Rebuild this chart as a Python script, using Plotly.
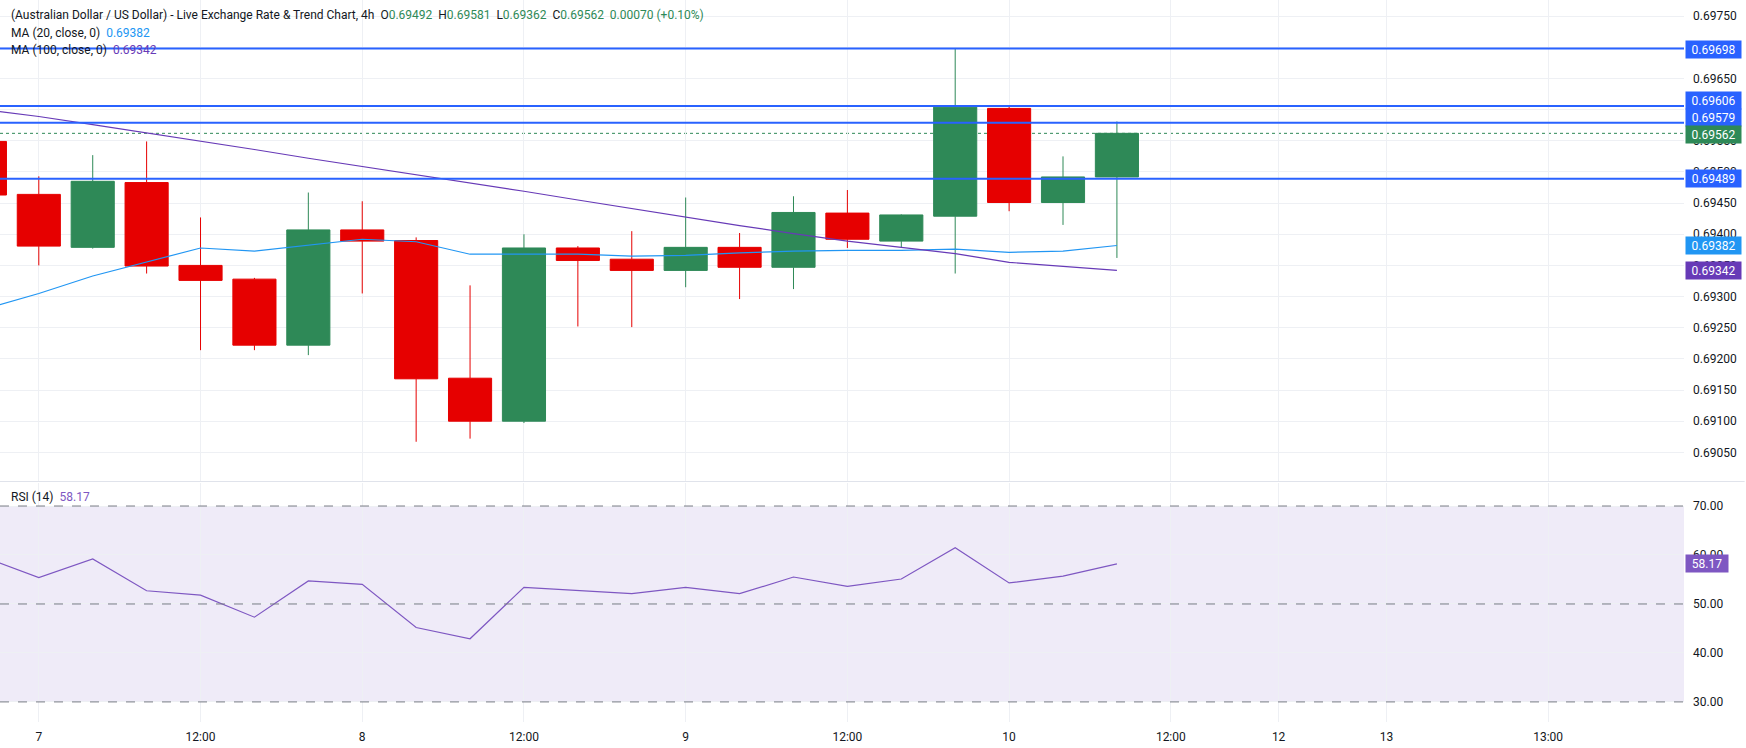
import plotly.graph_objects as go

# ---- data ----
candle_idx = list(range(-1, 21))
open_ = [0.69549, 0.69464, 0.69379, 0.69483, 0.69350, 0.69328, 0.69222, 0.69407, 0.69390, 0.69169, 0.69100,
         0.69378, 0.69360, 0.69342, 0.69379, 0.69347, 0.69434, 0.69389, 0.69429, 0.69602, 0.69451, 0.69492]
high = [0.69555, 0.69493, 0.69527, 0.69549, 0.69427, 0.69330, 0.69467, 0.69453, 0.69395, 0.69318, 0.69400,
        0.69381, 0.69405, 0.69459, 0.69402, 0.69461, 0.69471, 0.69432, 0.69698, 0.69606, 0.69525, 0.69581]
low = [0.69455, 0.69350, 0.69377, 0.69337, 0.69214, 0.69214, 0.69206, 0.69305, 0.69067, 0.69072, 0.69097,
       0.69252, 0.69251, 0.69315, 0.69296, 0.69312, 0.69378, 0.69379, 0.69337, 0.69437, 0.69415, 0.69362]
close = [0.69463, 0.69381, 0.69485, 0.69349, 0.69326, 0.69222, 0.69407, 0.69389, 0.69168, 0.69100, 0.69378,
         0.69358, 0.69342, 0.69379, 0.69347, 0.69435, 0.69392, 0.69431, 0.69604, 0.69451, 0.69492, 0.69562]
ma20 = [0.69280, 0.69305, 0.69333, 0.69356, 0.69378, 0.69373, 0.69382, 0.69392, 0.69388, 0.69368, 0.69368,
        0.69368, 0.69365, 0.69366, 0.69370, 0.69373, 0.69374, 0.69374, 0.69376, 0.69371, 0.69373, 0.69382]
ma100 = [0.69600, 0.69589, 0.69576, 0.69563, 0.69549, 0.69536, 0.69522, 0.69509, 0.69496, 0.69482, 0.69469,
         0.69455, 0.69441, 0.69428, 0.69414, 0.69401, 0.69389, 0.69379, 0.69369, 0.69355, 0.69349, 0.69342]
rsi = [59.5, 55.4, 59.2, 52.7, 51.8, 47.3, 54.7, 54.0, 45.2, 42.9, 53.4,
       52.8, 52.1, 53.4, 52.1, 55.5, 53.6, 55.1, 61.5, 54.3, 55.7, 58.17]

level_lines = [0.69698, 0.69606, 0.69579, 0.69489]
last_close = 0.69562
ma20_last = 0.69382
ma100_last = 0.69342
rsi_last = 58.17

x_tick_pos = [0, 3, 6, 9, 12, 15, 18, 21, 23, 25, 28]
x_tick_text = ["7", "12:00", "8", "12:00", "9", "12:00", "10", "12:00", "12", "13", "13:00"]
price_ticks = [0.69050, 0.69100, 0.69150, 0.69200, 0.69250, 0.69300, 0.69350, 0.69400, 0.69450,
               0.69500, 0.69550, 0.69600, 0.69650, 0.69700, 0.69750]
price_tick_text = ["0.69050", "0.69100", "0.69150", "0.69200", "0.69250", "0.69300", "0.69350", "0.69400",
                   "0.69450", "0.69500", "0.69550", "", "0.69650", "", "0.69750"]
rsi_ticks = [30, 40, 50, 60, 70]

# ---- style ----
GREEN = "#2E8957"
RED = "#E60000"
BLUE = "#2962FF"
MA20_C = "#2196F3"
MA100_C = "#673AB7"
RSI_C = "#7E57C2"
GRID = "#EEF0F4"
TXT = "#131722"
FONT = "Roboto, Liberation Sans, Arial, sans-serif"

W, H = 1746, 748
M_T, M_B, M_L, M_R = 0, 26, 0, 62
PH = H - M_T - M_B
X_RANGE = [-0.72, 30.52]

fig = go.Figure()

fig.add_trace(go.Candlestick(
    x=candle_idx, open=open_, high=high, low=low, close=close,
    increasing=dict(line=dict(color=GREEN, width=1), fillcolor=GREEN),
    decreasing=dict(line=dict(color=RED, width=1), fillcolor=RED),
    whiskerwidth=0, showlegend=False, xaxis="x", yaxis="y", hoverinfo="skip"))

fig.add_trace(go.Scatter(x=candle_idx, y=ma20, mode="lines",
                         line=dict(color=MA20_C, width=1.2), showlegend=False,
                         xaxis="x", yaxis="y", hoverinfo="skip"))
fig.add_trace(go.Scatter(x=candle_idx, y=ma100, mode="lines",
                         line=dict(color=MA100_C, width=1.2), showlegend=False,
                         xaxis="x", yaxis="y", hoverinfo="skip"))
fig.add_trace(go.Scatter(x=candle_idx, y=rsi, mode="lines",
                         line=dict(color=RSI_C, width=1.2), showlegend=False,
                         xaxis="x2", yaxis="y2", hoverinfo="skip"))

shapes = []
# RSI band
shapes.append(dict(type="rect", xref="paper", yref="y2", x0=0, x1=1, y0=30, y1=70,
                   fillcolor="rgba(126,87,194,0.12)", line=dict(width=0), layer="below"))
for lv in [70, 50, 30]:
    shapes.append(dict(type="line", xref="paper", yref="y2", x0=0, x1=1, y0=lv, y1=lv,
                       line=dict(color="#787B86", width=1, dash="dash"), layer="above"))
# last close dotted
shapes.append(dict(type="line", xref="paper", yref="y", x0=0, x1=1, y0=last_close, y1=last_close,
                   line=dict(color=GREEN, width=1, dash="dot"), layer="below"))
for lv in level_lines:
    shapes.append(dict(type="line", xref="paper", yref="y", x0=0, x1=1, y0=lv, y1=lv,
                       line=dict(color=BLUE, width=2), layer="above"))
# pane separator
sep_y = 1 - 481.5 / PH
shapes.append(dict(type="line", xref="paper", yref="paper", x0=0, x1=1.036, y0=sep_y, y1=sep_y,
                   line=dict(color="#E0E3EB", width=1), layer="above"))

annotations = []
def box(y, text, color, yref="y", w=51, yshift=0):
    annotations.append(dict(xref="paper", yref=yref, x=1, y=y, xanchor="left", yanchor="middle",
                            xshift=1, yshift=yshift, text=text, showarrow=False, bgcolor=color,
                            font=dict(color="white", size=12, family=FONT),
                            width=w, height=13, borderpad=2, align="center"))

box(level_lines[0], "0.69698", BLUE, yshift=-1)
box(level_lines[1], "0.69606", BLUE, yshift=5)
box(level_lines[2], "0.69579", BLUE, yshift=5)
box(last_close, "0.69562", GREEN, yshift=-1.5)
box(level_lines[3], "0.69489", BLUE)
box(ma20_last, "0.69382", MA20_C)
box(ma100_last, "0.69342", MA100_C)
box(rsi_last, "58.17", RSI_C, yref="y2", w=38)

def ytop(px):
    return 1 - (px - M_T) / PH

def legend_text(y_px, text):
    annotations.append(dict(xref="paper", yref="paper", x=0, y=ytop(y_px), xanchor="left",
                            yanchor="middle", xshift=9, text=text, showarrow=False,
                            font=dict(color=TXT, size=12, family=FONT), align="left"))

def g(s):
    return f'<span style="color:{GREEN}">{s}</span>'

NB = "\u00a0"
title = ("(Australian Dollar / US Dollar) - Live Exchange Rate &amp; Trend Chart, 4h" + NB * 2 +
         "O" + g("0.69492") + NB * 2 + "H" + g("0.69581") + NB * 2 + "L" + g("0.69362") + NB * 2 +
         "C" + g("0.69562") + NB * 2 + g("0.00070 (+0.10%)"))
legend_text(15, title)
legend_text(33, "MA (20, close, 0)" + NB * 2 + f'<span style="color:{MA20_C}">{ma20_last:.5f}</span>')
legend_text(50, "MA (100, close, 0)" + NB * 2 + f'<span style="color:{MA100_C}">{ma100_last:.5f}</span>')
legend_text(497, "RSI (14)" + NB * 2 + f'<span style="color:{RSI_C}">{rsi_last:.2f}</span>')

price_dom = [1 - 481 / PH, 1]
rsi_dom = [0, (PH - 483) / PH]

fig.update_layout(
    width=W, height=H,
    margin=dict(t=M_T, b=M_B, l=M_L, r=M_R),
    paper_bgcolor="white", plot_bgcolor="white",
    font=dict(family=FONT, color=TXT, size=12),
    boxgap=0.2, boxgroupgap=0,
    shapes=shapes, annotations=annotations,
    xaxis=dict(domain=[0, 1], anchor="y", range=X_RANGE, showticklabels=False,
               tickvals=x_tick_pos, showgrid=True, gridcolor=GRID, zeroline=False,
               rangeslider=dict(visible=False), fixedrange=True),
    yaxis=dict(domain=price_dom, anchor="x", side="right", range=[0.69004, 0.69776],
               tickvals=price_ticks, ticktext=price_tick_text, showgrid=True, gridcolor=GRID,
               zeroline=False, ticklabelstandoff=8, tickfont=dict(size=12, color=TXT)),
    xaxis2=dict(domain=[0, 1], anchor="y2", matches="x", range=X_RANGE,
                tickvals=x_tick_pos, ticktext=x_tick_text, showgrid=True, gridcolor=GRID,
                zeroline=False, ticks="", ticklabelstandoff=6, tickfont=dict(size=12, color=TXT)),
    yaxis2=dict(domain=rsi_dom, anchor="x2", side="right", range=[25.9, 74.7],
                tickvals=rsi_ticks, tickformat=".2f", showgrid=True, gridcolor=GRID,
                zeroline=False, ticklabelstandoff=8, tickfont=dict(size=12, color=TXT)),
)

fig.write_html("out.html")
